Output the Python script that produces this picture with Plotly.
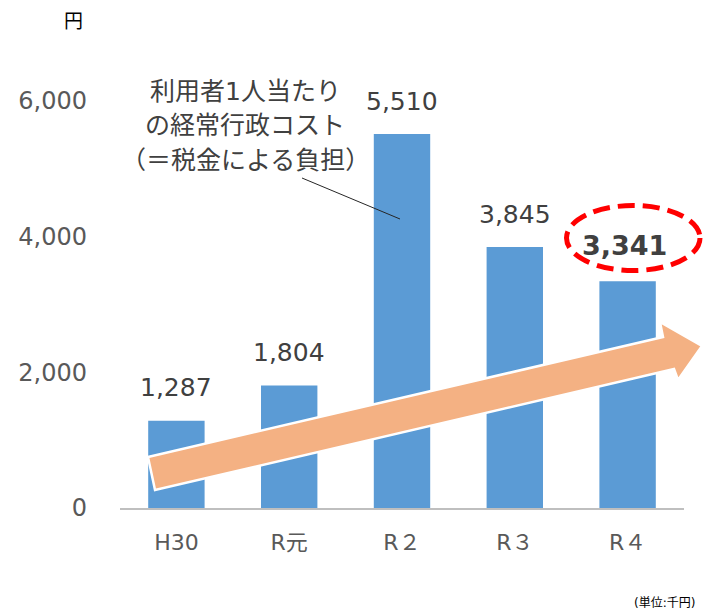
import plotly.graph_objects as go

# ---- data ----
categories = ["H30", "R元", "R２", "R３", "R４"]
values = [1287, 1804, 5510, 3845, 3341]
y_tick_vals = [0, 2000, 4000, 6000]
y_tick_text = ["0", "2,000", "4,000", "6,000"]
note_lines = ["利用者1人当たり", "の経常行政コスト", "（＝税金による負担）"]
unit_label = "(単位:千円)"
y_unit = "円"

W, H = 703, 615
ML, MR, MT, MB = 120, 19, 33, 107
PW, PH = W - ML - MR, H - MT - MB

FONT = "DejaVu Sans, Noto Sans CJK JP, sans-serif"


def px(x, y):
    """pixel position -> paper coordinates"""
    return (x - ML) / PW, (H - MB - y) / PH


fig = go.Figure(go.Bar(
    x=categories, y=values, marker=dict(color="#5B9BD5", line=dict(width=0)),
    hoverinfo="x+y",
))

annotations = []
for i, (c, v) in enumerate(zip(categories, values)):
    last = i == len(values) - 1
    annotations.append(dict(
        x=c, y=v, xref="x", yref="y", text=(f"<b>{v:,}</b>" if last else f"{v:,}"),
        showarrow=False, yanchor="middle", yshift=(36 if last else 33),
        xshift=(-3 if last else 0),
        font=dict(family=FONT, size=(27 if last else 25), color="#404040"),
    ))

for line, ypix in zip(note_lines, [92, 125, 160]):
    ax, ay = px(245, ypix)
    annotations.append(dict(x=ax, y=ay, xref="paper", yref="paper", text=line,
                            showarrow=False, xanchor="center", yanchor="middle",
                            font=dict(family=FONT, size=25, color="#404040")))

ax, ay = px(73, 21)
annotations.append(dict(x=ax, y=ay, xref="paper", yref="paper", text=y_unit,
                        showarrow=False, xanchor="center", yanchor="middle",
                        font=dict(family=FONT, size=19, color="#000000")))
ax, ay = px(664, 603)
annotations.append(dict(x=ax, y=ay, xref="paper", yref="paper", text=unit_label,
                        showarrow=False, xanchor="center", yanchor="middle",
                        font=dict(family=FONT, size=12, color="#000000")))

# arrow (decoration)
arrow_pts = [(148, 457), (663, 337), (660, 322), (702, 346), (678, 380), (674, 369), (155, 490)]
path = "M " + " L ".join("{:.4f},{:.4f}".format(*px(x, y)) for x, y in arrow_pts) + " Z"

shapes = [
    dict(type="path", path=path, xref="paper", yref="paper",
         fillcolor="#F4B183", line=dict(color="#FFFFFF", width=2.5), layer="above"),
]
x0, y0 = px(566.5, 270.5)
x1, y1 = px(700, 205.5)
shapes.append(dict(type="circle", xref="paper", yref="paper", x0=x0, y0=y0, x1=x1, y1=y1,
                   line=dict(color="#FF0000", width=5, dash="17px,8px"), layer="above"))
lx0, ly0 = px(302, 178)
lx1, ly1 = px(400, 219)
shapes.append(dict(type="line", xref="paper", yref="paper", x0=lx0, y0=ly0, x1=lx1, y1=ly1,
                   line=dict(color="#262626", width=1), layer="above"))

fig.update_layout(
    width=W, height=H,
    margin=dict(l=ML, r=MR, t=MT, b=MB, pad=0),
    paper_bgcolor="white", plot_bgcolor="white",
    bargap=0.5, showlegend=False,
    font=dict(family=FONT, color="#595959"),
    xaxis=dict(showline=True, linecolor="#BFBFBF", linewidth=2, ticks="",
               showgrid=False, zeroline=False,
               tickfont=dict(family=FONT, size=22, color="#595959"),
               ticklabelstandoff=14),
    yaxis=dict(range=[0, 7000], tickvals=y_tick_vals, ticktext=y_tick_text,
               showgrid=False, zeroline=False, showline=False, ticks="",
               tickfont=dict(family=FONT, size=24, color="#595959"),
               ticklabelstandoff=32),
    annotations=annotations, shapes=shapes,
)

fig.write_html("out.html", config={"displayModeBar": False},
               post_script="document.body.style.margin='0';document.body.style.overflow='hidden';")
